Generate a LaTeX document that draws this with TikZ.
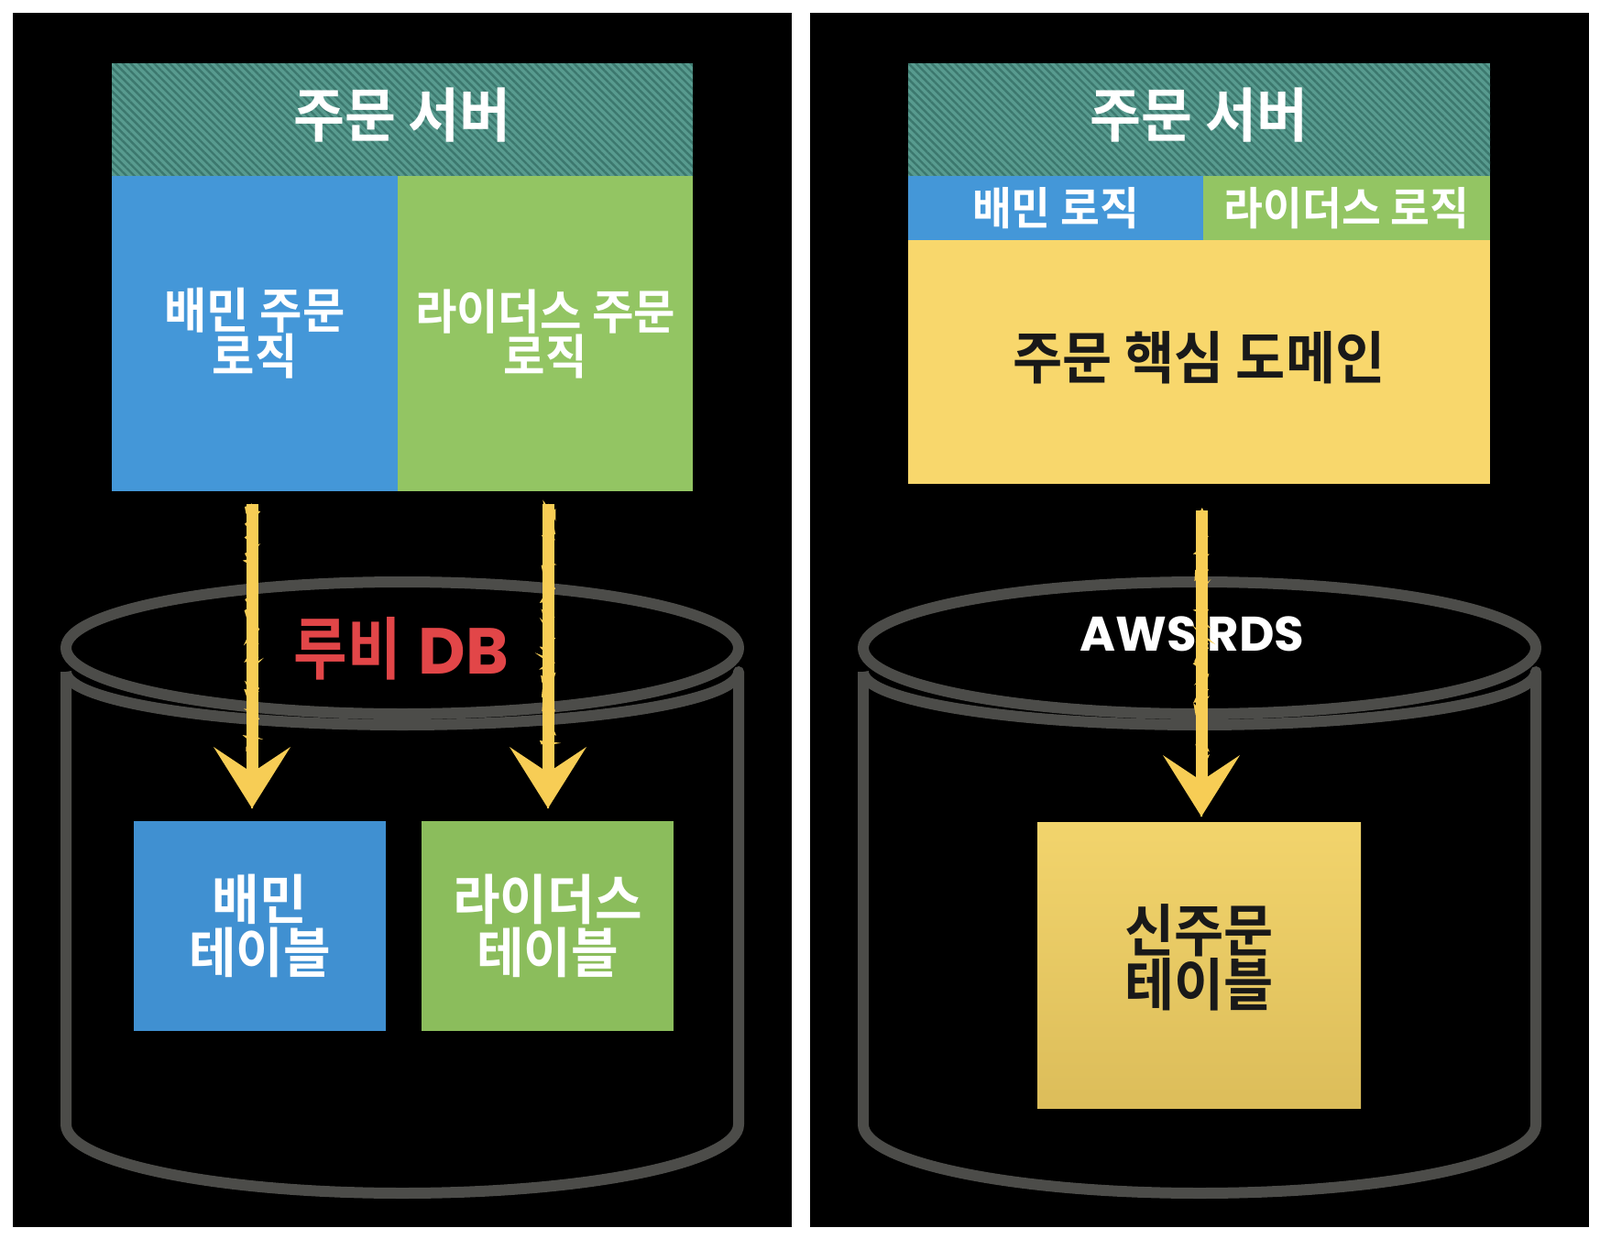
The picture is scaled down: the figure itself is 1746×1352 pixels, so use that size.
\documentclass[tikz,border=0pt]{standalone}
\usepackage{fontspec}
\usetikzlibrary{arrows.meta,patterns.meta,decorations.pathmorphing}
\newfontfamily\kr[FakeStretch=0.95]{Noto Sans CJK KR Bold}
\newfontfamily\krr[FakeStretch=0.86]{Noto Sans CJK KR Bold}
\newfontfamily\pop{Poppins Bold}
\definecolor{tealbase}{RGB}{88,155,143}
\definecolor{tealdark}{RGB}{60,120,110}
\definecolor{blueC}{RGB}{68,151,216}
\definecolor{greenC}{RGB}{147,197,99}
\definecolor{yellowC}{RGB}{248,215,108}
\definecolor{btabC}{RGB}{64,144,209}
\definecolor{gtabC}{RGB}{139,189,92}
\definecolor{ytabTop}{RGB}{242,212,108}
\definecolor{ytabBot}{RGB}{220,189,90}
\definecolor{cylC}{RGB}{76,76,73}
\definecolor{chalk}{RGB}{247,205,85}
\definecolor{rubyred}{RGB}{226,70,72}
\definecolor{inkC}{RGB}{25,25,25}
\tikzset{
  box/.style={rectangle, inner sep=0pt, outer sep=0pt, draw=none, align=center},
  hdrbox/.style={box, fill=tealbase,
    postaction={pattern={Lines[angle=-45,distance=6pt,line width=2.4pt]}, pattern color=tealdark}},
  hdrtext/.style={box, text=white, font=\kr\fontsize{64}{64}\selectfont},
  cyl/.style={draw=cylC, line width=12pt, line join=round},
  chalkarrow/.style={draw=chalk, line width=13pt,
    -{Stealth[length=67pt,width=84pt,inset=28pt,line width=0pt]},
    postaction={draw=chalk, line width=2pt, arrows=-, decorate,
      decoration={random steps, segment length=3pt, amplitude=7.6pt, post length=62pt}}},
}
\begin{document}
\begin{tikzpicture}[x=1pt,y=-1pt]
\useasboundingbox (0,0) rectangle (1746,1352);
\fill[white] (0,0) rectangle (1746,1352);
\fill[black] (14,14) rectangle (864,1339);
\fill[black] (884,14) rectangle (1734,1339);

% ---------- left cylinder ----------
\draw[cyl] (72,733) -- (72,1227) arc[start angle=180,end angle=0,x radius=367,y radius=75]
  -- (806,733) arc[start angle=0,end angle=180,x radius=367,y radius=58];
\draw[cyl] (439,707) ellipse[x radius=367,y radius=72];
% ---------- right cylinder ----------
\draw[cyl] (942,733) -- (942,1227) arc[start angle=180,end angle=0,x radius=367,y radius=75]
  -- (1676,733) arc[start angle=0,end angle=180,x radius=367,y radius=58];
\draw[cyl] (1309,707) ellipse[x radius=367,y radius=72];

% DB labels
\node[box, text=rubyred] (rubydb) at (438,708) {{\krr\fontsize{74}{74}\selectfont 루비}\hspace{19pt}{\pop\fontsize{71}{71}\selectfont DB}};
\node[box, text=white, font=\pop\fontsize{53}{53}\selectfont] (awsrds) at (1301,692) {AWS RDS};

% ---------- left server ----------
\node[hdrbox, minimum width=634pt, minimum height=123pt] (hdrL) at (439,130.5) {};
\node[hdrtext] (hdrLtxt) at (439,126) {주문 서버};
\node[box, fill=blueC, text=white, minimum width=312pt, minimum height=344pt,
  font=\kr\fontsize{53}{49}\selectfont] (bluL) at (278,364) {배민 주문\\로직};
\node[box, fill=greenC, text=white, minimum width=322pt, minimum height=344pt,
  font=\kr\fontsize{52}{49}\selectfont] (grnL) at (595,364) {라이더스 주문\\로직};

% left tables
\node[box, fill=btabC, text=white, minimum width=275pt, minimum height=229pt,
  font=\kr\fontsize{59}{58}\selectfont] (btab) at (283.5,1010.5) {배민\\테이블};
\node[box, fill=gtabC, text=white, minimum width=275pt, minimum height=229pt,
  font=\kr\fontsize{59}{58}\selectfont] (gtab) at (597.5,1010.5) {라이더스\\테이블};

% ---------- right server ----------
\node[hdrbox, minimum width=635pt, minimum height=123pt] (hdrR) at (1308.5,130.5) {};
\node[hdrtext] (hdrRtxt) at (1308.5,126) {주문 서버};
\node[box, fill=blueC, text=white, minimum width=322pt, minimum height=70pt,
  font=\kr\fontsize{49}{49}\selectfont] (bluR) at (1152,227) {배민 로직};
\node[box, fill=greenC, text=white, minimum width=313pt, minimum height=70pt,
  font=\kr\fontsize{49}{49}\selectfont] (grnR) at (1469.5,227) {라이더스 로직};
\node[box, fill=yellowC, minimum width=635pt, minimum height=266pt] (dom) at (1308.5,395) {};
\node[box, text=inkC, font=\kr\fontsize{62}{62}\selectfont] (domtxt) at (1308.5,390) {주문 핵심 도메인};

% right table
\node[box, top color=ytabTop, bottom color=ytabBot, minimum width=353pt, minimum height=312pt] (ytab) at (1308.5,1053) {};
\node[box, text=inkC, font=\kr\fontsize{62}{59}\selectfont] (ytabtxt) at (1308.5,1045) {신주문\\테이블};

% ---------- arrows ----------
\draw[chalkarrow] ([xshift=-3pt,yshift=-14pt]bluL.south) -- ([xshift=-3pt,yshift=14pt]bluL.south |- btab.north);
\draw[chalkarrow] ([xshift=3pt,yshift=-14pt]grnL.south) -- ([xshift=3pt,yshift=14pt]grnL.south |- gtab.north);
\draw[chalkarrow] ([xshift=2.5pt,yshift=-29pt]dom.south) -- ([xshift=2.5pt,yshift=6pt]dom.south |- ytab.north);
\end{tikzpicture}
\end{document}
